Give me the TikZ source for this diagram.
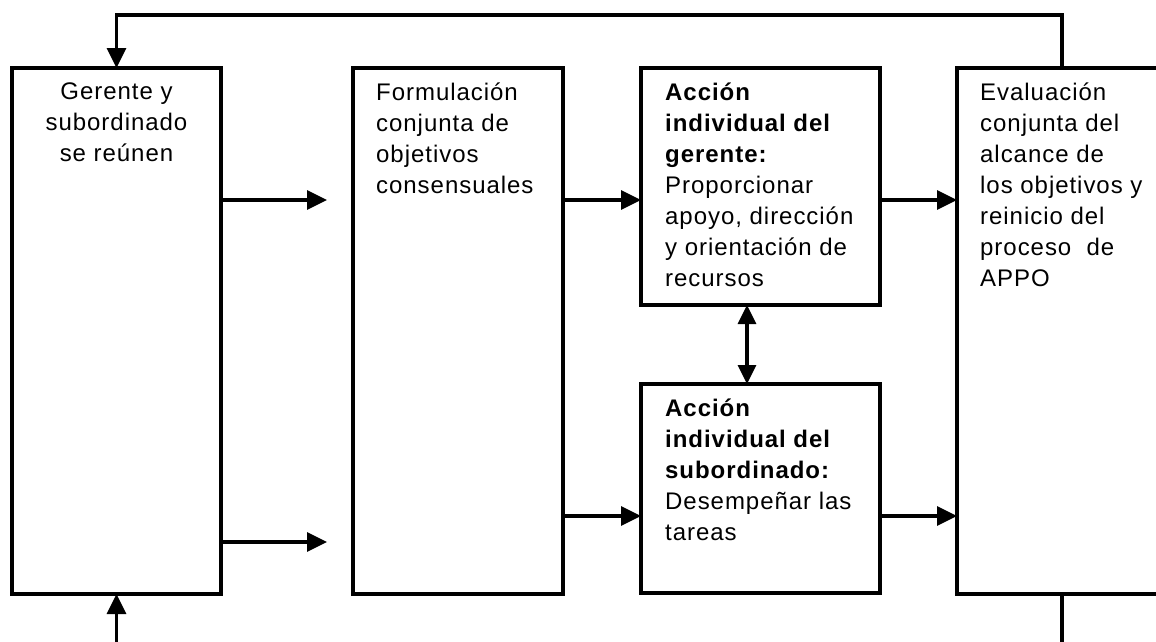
\documentclass[tikz,border=0pt]{standalone}
\usepackage{fontspec}
\setmainfont{Liberation Sans}[LetterSpace=4]
\usetikzlibrary{arrows.meta,positioning}
\tikzstyle{block} = [rectangle, draw, line width=3.2pt, inner sep=0pt, outer sep=0pt, anchor=north west]
\tikzstyle{txt} = [inner sep=0pt, font=\fontsize{24}{31}\selectfont]
\tikzstyle{line} = [draw, line width=3.2pt, -{Triangle[length=20pt,width=19pt]}]
\tikzstyle{dline} = [draw, line width=3.2pt, {Triangle[length=19pt,width=18pt]}-{Triangle[length=19pt,width=18pt]}]
\tikzstyle{plain} = [draw, line width=3.2pt]

\begin{document}
\begin{tikzpicture}[x=1pt,y=-1pt]
\useasboundingbox (0,0) rectangle (1156,641);
\node [block, minimum width=209pt, minimum height=526pt] (reunen) at (12,68) {};
\node [block, minimum width=210pt, minimum height=526pt] (formula) at (353,68) {};
\node [block, minimum width=239pt, minimum height=237pt] (accGer) at (641,68) {};
\node [block, minimum width=239pt, minimum height=209pt] (accSub) at (641,384) {};
\node [block, minimum width=260pt, minimum height=526pt] (evalua) at (957,68) {};
\node [txt, align=center, anchor=north] (reunenT) at ([yshift=-15pt]reunen.north) {Gerente y\\subordinado\\se reúnen};
\node [txt, align=left, anchor=north west] (formulaT) at ([shift={(23pt,-15pt)}]formula.north west) {Formulación\\conjunta de\\objetivos\\consensuales};
\node [txt, align=left, anchor=north west] (accGerT) at ([shift={(24pt,-15pt)}]accGer.north west) {\textbf{Acción}\\\textbf{individual del}\\\textbf{gerente:}\\Proporcionar\\apoyo, dirección\\y orientación de\\recursos};
\node [txt, align=left, anchor=north west] (accSubT) at ([shift={(24pt,-15pt)}]accSub.north west) {\textbf{Acción}\\\textbf{individual del}\\\textbf{subordinado:}\\Desempeñar las\\tareas};
\node [txt, align=left, anchor=north west] (evaluaT) at ([shift={(23pt,-15pt)}]evalua.north west) {Evaluación\\conjunta del\\alcance de\\los objetivos y\\reinicio del\\proceso~ de\\APPO};
\coordinate (yUp) at (0,200);
\coordinate (yLow) at (0,516);
\coordinate (c1) at (327,200);
\coordinate (c2) at (327,542);
\coordinate (mid) at (747,0);
\coordinate (fbR) at (1062,15);
\coordinate (outR) at (1062,660);
\coordinate (outL) at (116.5,660);
\path [line] (reunen.east |- c1) -- (c1);
\path [line] (reunen.east |- c2) -- (c2);
\path [line] (formula.east |- yUp) -- (accGer.west |- yUp);
\path [line] (formula.east |- yLow) -- (accSub.west |- yLow);
\path [line] (accGer.east |- yUp) -- (evalua.west |- yUp);
\path [line] (accSub.east |- yLow) -- (evalua.west |- yLow);
\path [dline] (accGer.south -| mid) -- (accSub.north -| mid);
\path [line] (evalua.north -| fbR) -- (fbR) -| (reunen.north);
\path [plain] (evalua.south -| outR) -- (outR);
\path [line] (outL) -- (reunen.south);
\end{tikzpicture}
\end{document}
